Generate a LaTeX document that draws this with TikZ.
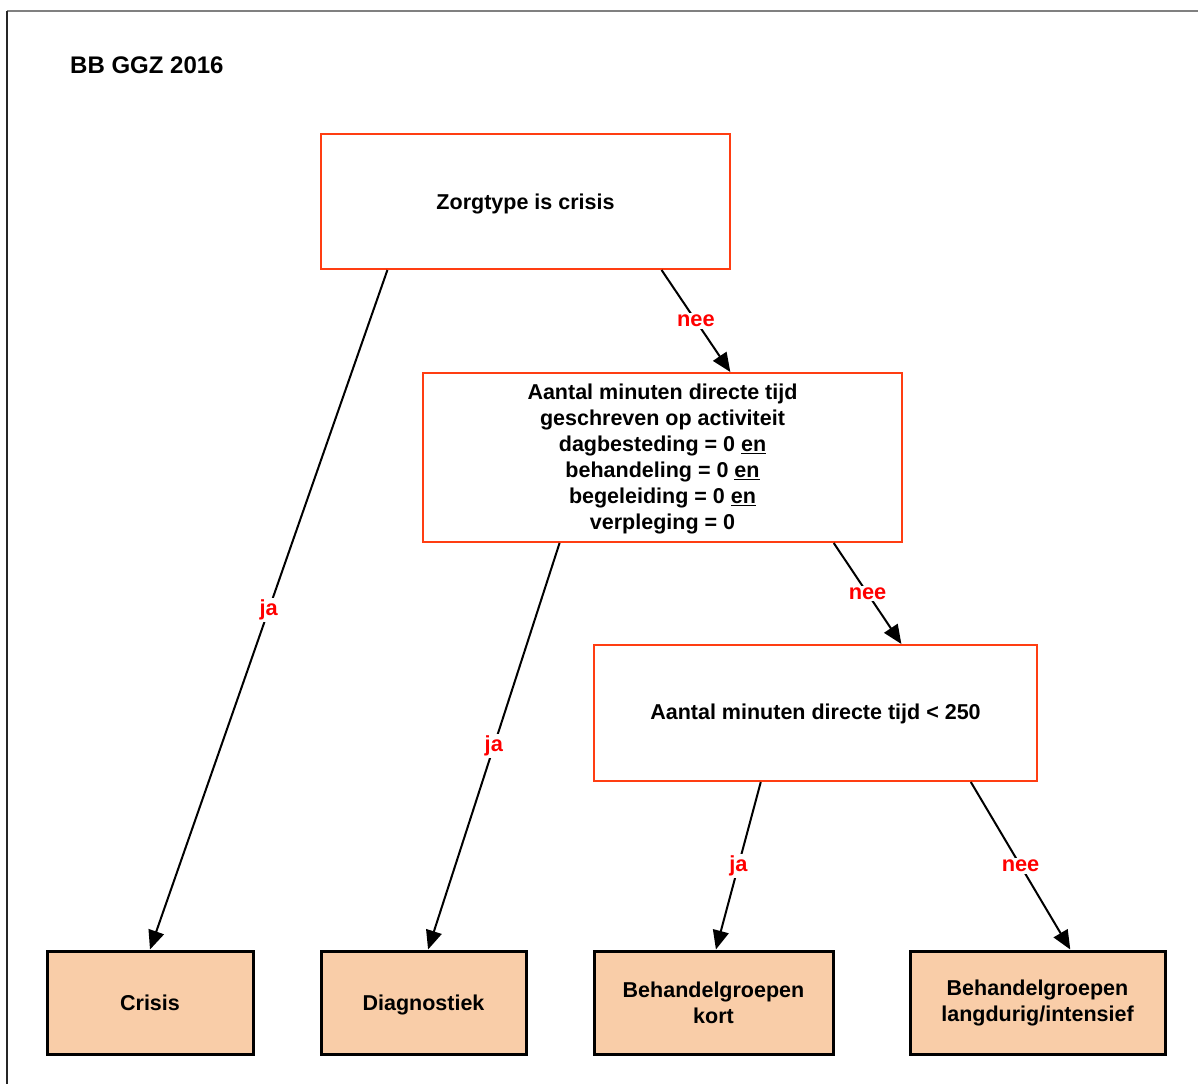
\documentclass[tikz,border=0pt]{standalone}
\usepackage{fontspec}
\setmainfont{Liberation Sans}
\usetikzlibrary{arrows.meta,calc}
\definecolor{boxred}{HTML}{FF3D12}
\definecolor{lblred}{HTML}{FF0000}
\definecolor{leaffill}{HTML}{F9CDA8}
\newcommand{\dropby}[2]{\raisebox{-#1}[\height][\depth]{#2}}
\begin{document}
\begin{tikzpicture}[x=1pt,y=-1pt,
  decision/.style={draw=boxred,line width=2pt,fill=white,inner sep=0pt,align=center,
    font=\fontsize{21.5}{26}\selectfont\bfseries},
  leaf/.style={draw=black,line width=3pt,fill=leaffill,inner sep=0pt,align=center,
    font=\fontsize{21.5}{26}\selectfont\bfseries},
  conn/.style={draw=black,line width=2pt,-{Triangle[length=19pt,width=16pt]}},
  lbl/.style={fill=white,text=lblred,inner sep=2pt,font=\fontsize{21.8}{24}\selectfont\bfseries}]
\useasboundingbox (0,0) rectangle (1198,1084);
% frame
\draw[gray,line width=1.5pt] (7,11) -- (1198,11);
\draw[black!85,line width=1.5pt] (7,11) -- (7,1084);
\node[anchor=base west,inner sep=0pt,font=\fontsize{24}{28}\selectfont\bfseries] (title) at (70,73) {BB GGZ 2016};
% decision boxes
\node[decision,minimum width=409pt,minimum height=135pt] (zorg) at (525.5,201.5) {\dropby{2pt}{Zorgtype is crisis}};
\node[decision,minimum width=479pt,minimum height=169pt] (mid) at (662.5,457.5)
  {\dropby{1.5pt}{\begin{tabular}{@{}c@{}}Aantal minuten directe tijd\\geschreven op activiteit\\dagbesteding = 0 \underline{en}\\behandeling = 0 \underline{en}\\begeleiding = 0 \underline{en}\\verpleging = 0\end{tabular}}};
\node[decision,minimum width=443pt,minimum height=136pt] (third) at (815.5,713) {\dropby{1pt}{Aantal minuten directe tijd {\textless} 250}};
% leaves
\node[leaf,minimum width=206pt,minimum height=103pt] (crisis) at (150,1002.5) {Crisis};
\node[leaf,minimum width=205pt,minimum height=103pt] (diag) at (423.5,1002.5) {\dropby{2pt}{Diagnostiek}};
\node[leaf,minimum width=239pt,minimum height=103pt] (kort) at (713.5,1002.5) {Behandelgroepen\\kort};
\node[leaf,minimum width=255pt,minimum height=103pt] (lang) at (1037.5,1002.5) {Behandelgroepen\\langdurig/intensief};
% connectors
\draw[conn] ($(zorg.south west)!0.164!(zorg.south east)$) -- node[lbl,pos=0.5] {ja} (crisis.north);
\draw[conn] ($(zorg.south west)!0.831!(zorg.south east)$) -- node[lbl,pos=0.5] {nee} ($(mid.north west)!0.641!(mid.north east)$);
\draw[conn] ($(mid.south west)!0.286!(mid.south east)$) -- node[lbl,pos=0.5] {ja} ($(diag.north west)!0.522!(diag.north east)$);
\draw[conn] ($(mid.south west)!0.856!(mid.south east)$) -- node[lbl,pos=0.5] {nee} ($(third.north west)!0.693!(third.north east)$);
\draw[conn] ($(third.south west)!0.377!(third.south east)$) -- node[lbl,pos=0.5] {ja} ($(kort.north west)!0.51!(kort.north east)$);
\draw[conn] ($(third.south west)!0.849!(third.south east)$) -- node[lbl,pos=0.5] {nee} ($(lang.north west)!0.627!(lang.north east)$);
\end{tikzpicture}
\end{document}
